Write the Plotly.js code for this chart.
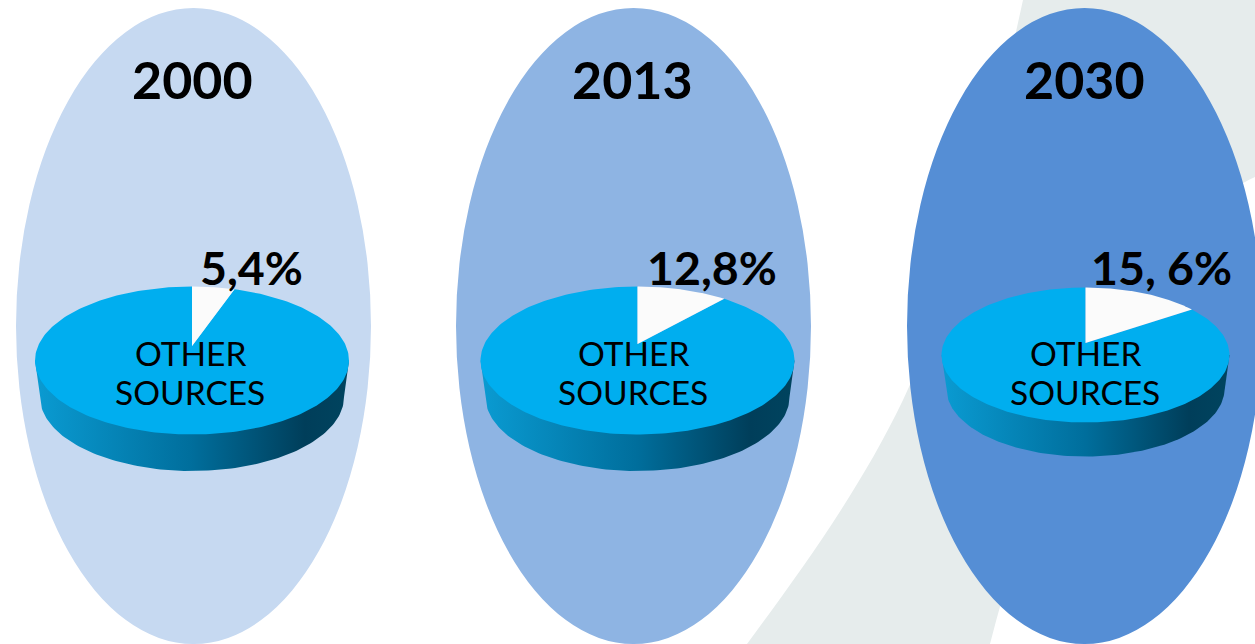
<!DOCTYPE html>
<html>
<head>
<meta charset="utf-8">
<script src="https://cdn.plot.ly/plotly-3.0.1.min.js"></script>
<style>html,body{margin:0;padding:0;background:#fff;overflow:hidden}</style>
</head>
<body>
<div id="chart" style="width:1255px;height:644px"></div>
<script>
// Data
const years = ['2000', '2013', '2030'];
const valueLabels = ['5,4%', '12,8%', '15, 6%'];
const sliceName = ['OTHER', 'SOURCES'];
// wedge sizes as drawn, in percent of the pie
const wedgeShares = [5.4, 11.7, 15.6];

// Page geometry (pixel space of the axes)
const ovals = [
  {cx: 193.5, rx: 177.5, color: '#C6D9F1'},
  {cx: 633.5, rx: 177.5, color: '#8EB4E3'},
  {cx: 1084.5, rx: 177.5, color: '#558ED5'}
];
const ovalTop = 8, ovalBottom = 644;
const pies = [
  {cx: 192, cy: 360.5, rx: 157, ry: 74, depth: 36.5, inset: 5, apex: 346, textX: 190, labelX: 251},
  {cx: 637.5, cy: 360.5, rx: 157, ry: 74, depth: 36.5, inset: 5, apex: 344, textX: 633, labelX: 712},
  {cx: 1085.5, cy: 355, rx: 144, ry: 67.5, depth: 34, inset: 5, apex: 343, textX: 1085, labelX: 1161}
];
const N = 120;

function wedgeEnd(p, share) {
  const th = 2 * Math.PI * share / 100;
  const dx = Math.sin(th) * p.rx, dy = -Math.cos(th) * p.ry;
  const off = p.apex - p.cy;
  const a = (dx / p.rx) ** 2 + (dy / p.ry) ** 2;
  const b = 2 * off * dy / (p.ry * p.ry);
  const c = (off / p.ry) ** 2 - 1;
  const s = (-b + Math.sqrt(b * b - 4 * a * c)) / (2 * a);
  const x = dx * s, y = off + dy * s;
  return Math.atan2(x / p.rx, -y / p.ry);
}

const traces = [];
pies.forEach((p, i) => {
  // side wall
  const sx = [], sy = [];
  sx.push(p.cx - p.rx); sy.push(p.cy);
  for (let k = 0; k <= N; k++) {
    const t = Math.PI * k / N;
    sx.push(p.cx - (p.rx - p.inset) * Math.cos(t));
    sy.push(p.cy + p.depth + p.ry * Math.sin(t));
  }
  sx.push(p.cx + p.rx); sy.push(p.cy);
  traces.push({
    x: sx, y: sy, type: 'scatter', mode: 'lines', fill: 'toself',
    line: {width: 0}, hoverinfo: 'skip', showlegend: false,
    fillcolor: '#006a96',
    fillgradient: {type: 'horizontal', colorscale: [[0, '#0A9BD2'], [0.5, '#006E9C'], [0.86, '#003E5A'], [1, '#00445F']]}
  });
  // pie face, the remainder
  const end = wedgeEnd(p, wedgeShares[i]);
  const fx = [p.cx], fy = [p.apex];
  for (let k = 0; k <= 2 * N; k++) {
    const t = end + (2 * Math.PI - end) * k / (2 * N);
    fx.push(p.cx + p.rx * Math.sin(t));
    fy.push(p.cy - p.ry * Math.cos(t));
  }
  fx.push(p.cx); fy.push(p.apex);
  traces.push({
    x: fx, y: fy, type: 'scatter', mode: 'lines', fill: 'toself',
    line: {width: 0}, fillcolor: '#00AEEF', hoverinfo: 'skip', showlegend: false
  });
  // the wedge
  const wx = [p.cx], wy = [p.apex];
  for (let k = 0; k <= N; k++) {
    const t = end * k / N;
    wx.push(p.cx + p.rx * Math.sin(t));
    wy.push(p.cy - p.ry * Math.cos(t));
  }
  wx.push(p.cx); wy.push(p.apex);
  traces.push({
    x: wx, y: wy, type: 'scatter', mode: 'lines', fill: 'toself',
    line: {width: 0}, fillcolor: '#FBFBFB', hoverinfo: 'skip', showlegend: false
  });
});

const shapes = [
  {type: 'path', layer: 'below', xref: 'x', yref: 'y', line: {width: 0}, fillcolor: '#E6ECEC',
   path: 'M 1023 0 L 1255 0 L 1255 177 C 1130 235 1040 450 990 644 L 747 644 C 800 572 860 490 903 400 C 960 280 990 150 1023 0 Z'}
];
ovals.forEach(o => shapes.push({
  type: 'circle', layer: 'below', xref: 'x', yref: 'y',
  x0: o.cx - o.rx, x1: o.cx + o.rx, y0: ovalTop, y1: ovalBottom,
  fillcolor: o.color, line: {width: 0}
}));

const annotations = [];
const ann = (x, y, text, size, weight) => annotations.push({
  x, y, text, xref: 'x', yref: 'y', showarrow: false, xanchor: 'center', yanchor: 'middle',
  font: {family: 'Lato, "Open Sans", sans-serif', size, color: '#000', weight}
});
pies.forEach((p, i) => {
  ann(ovals[i].cx - 1 + (i === 2 ? 1 : 0), 79, years[i], 52, 700);
  ann(p.labelX, 267, valueLabels[i], 46.5, 700);
  ann(p.textX, 352.5, sliceName[0], 33.5, 400);
  ann(p.textX, 391.5, sliceName[1], 33.5, 400);
});

Plotly.newPlot('chart', traces, {
  width: 1255, height: 644,
  margin: {l: 0, r: 0, t: 0, b: 0},
  paper_bgcolor: '#fff', plot_bgcolor: '#fff',
  showlegend: false,
  xaxis: {range: [0, 1255], visible: false, fixedrange: true},
  yaxis: {range: [644, 0], visible: false, fixedrange: true},
  shapes, annotations
}, {displayModeBar: false, staticPlot: true});
</script>
</body>
</html>
